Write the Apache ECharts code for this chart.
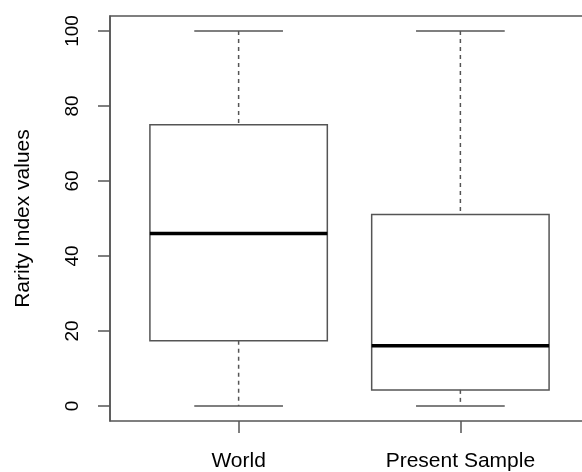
<!DOCTYPE html>
<html>
<head>
<meta charset="utf-8">
<script src="https://cdn.jsdelivr.net/npm/echarts@6/dist/echarts.min.js"></script>
<style>
  html, body { margin: 0; padding: 0; background: #fff; }
  #chart { width: 582px; height: 472px; }
</style>
</head>
<body>
<div id="chart"></div>
<script>
// boxplot groups
const groups = ['World', 'Present Sample']
const whiskerLow = [0, 0]
const q1 = [17.4, 4.3]
const median = [46, 16.1]
const q3 = [75, 51.1]
const whiskerHigh = [100, 100]
const yTicks = [0, 20, 40, 60, 80, 100]

const lineColor = '#555'
const fontFamily = 'Liberation Sans, Arial, sans-serif'

const chart = echarts.init(document.getElementById('chart'))

function renderBox(params, api) {
  const x = api.value(0)
  const lo = api.coord([x, api.value(1)])
  const b1 = api.coord([x, api.value(2)])
  const md = api.coord([x, api.value(3)])
  const b3 = api.coord([x, api.value(4)])
  const hi = api.coord([x, api.value(5)])
  const boxW = api.size([0.8, 0])[0]
  const capW = api.size([0.4, 0])[0]
  const cx = lo[0]
  const solid = { stroke: lineColor, lineWidth: 1.5, fill: null }
  const dashed = { stroke: lineColor, lineWidth: 1.5, lineDash: [4, 4] }
  return {
    type: 'group',
    children: [
      // whiskers
      { type: 'line', shape: { x1: cx, y1: hi[1], x2: cx, y2: b3[1] }, style: dashed },
      { type: 'line', shape: { x1: cx, y1: b1[1], x2: cx, y2: lo[1] }, style: dashed },
      // caps
      { type: 'line', shape: { x1: cx - capW / 2, y1: hi[1], x2: cx + capW / 2, y2: hi[1] }, style: solid },
      { type: 'line', shape: { x1: cx - capW / 2, y1: lo[1], x2: cx + capW / 2, y2: lo[1] }, style: solid },
      // box
      { type: 'rect', shape: { x: cx - boxW / 2, y: b3[1], width: boxW, height: b1[1] - b3[1] }, style: solid },
      // median
      { type: 'line', shape: { x1: cx - boxW / 2, y1: md[1], x2: cx + boxW / 2, y2: md[1] },
        style: { stroke: '#000', lineWidth: 3.5 } }
    ]
  }
}

const option = {
  animation: false,
  backgroundColor: '#fff',
  grid: {
    left: 110, right: -7, top: 16, bottom: 51,
    outerBoundsMode: 'none',
    containLabel: false,
    show: true, borderColor: lineColor, borderWidth: 1.5, backgroundColor: 'transparent'
  },
  xAxis: {
    type: 'value',
    min: 0.42,
    max: 2.58,
    splitLine: { show: false },
    axisLine: { show: false, onZero: false },
    axisTick: { show: true, length: 12, lineStyle: { color: lineColor, width: 1.5 }, customValues: [1, 2] },
    axisLabel: {
      customValues: [1, 2],
      formatter: v => groups[Math.round(v) - 1],
      color: '#000', fontSize: 21, fontFamily, margin: 30
    }
  },
  yAxis: {
    type: 'value',
    min: -4,
    max: 104,
    name: 'Rarity Index values',
    nameLocation: 'middle',
    nameGap: 76,
    nameTextStyle: { color: '#000', fontSize: 21, fontFamily },
    splitLine: { show: false },
    axisLine: { show: true, onZero: false, lineStyle: { color: lineColor, width: 1.5 } },
    axisTick: { show: true, length: 12, lineStyle: { color: lineColor, width: 1.5 }, customValues: yTicks },
    axisLabel: {
      customValues: yTicks,
      rotate: 90,
      color: '#000', fontSize: 19, fontFamily, margin: 28
    }
  },
  series: [{
    type: 'custom',
    renderItem: renderBox,
    data: groups.map((g, i) => [i + 1, whiskerLow[i], q1[i], median[i], q3[i], whiskerHigh[i]])
  }]
}

chart.setOption(option)
</script>
</body>
</html>
